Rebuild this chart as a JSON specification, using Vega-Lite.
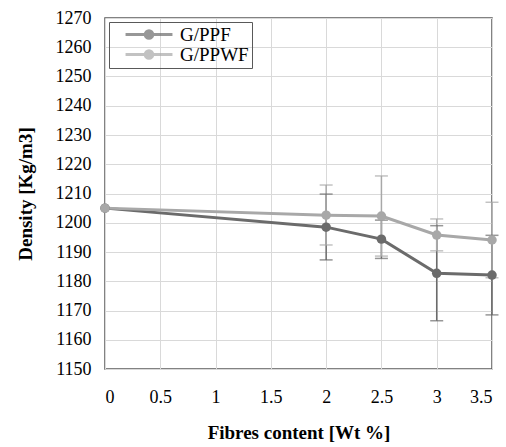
{
  "$schema": "https://vega.github.io/schema/vega-lite/v6.json",
  "autosize": "none",
  "width": 387,
  "height": 351,
  "padding": {"left": 105, "top": 18, "right": 14, "bottom": 78},
  "background": "white",
  "config": {
    "font": "Liberation Serif",
    "view": {"stroke": "#595959", "strokeWidth": 1.5}
  },
  "data": {
    "values": [
      {"x": 0, "series": "G/PPF", "density": 1205},
      {"x": 2, "series": "G/PPF", "density": 1198.5, "lo": 1187.3, "hi": 1209.8},
      {"x": 2.5, "series": "G/PPF", "density": 1194.4, "lo": 1187.8, "hi": 1200.9},
      {"x": 3, "series": "G/PPF", "density": 1182.7, "lo": 1166.5, "hi": 1199.0},
      {"x": 3.5, "series": "G/PPF", "density": 1182.1, "lo": 1168.5, "hi": 1195.7},
      {"x": 0, "series": "G/PPWF", "density": 1205},
      {"x": 2, "series": "G/PPWF", "density": 1202.6, "lo": 1192.4, "hi": 1212.9},
      {"x": 2.5, "series": "G/PPWF", "density": 1202.3, "lo": 1188.6, "hi": 1216.0},
      {"x": 3, "series": "G/PPWF", "density": 1195.8, "lo": 1190.4, "hi": 1201.3},
      {"x": 3.5, "series": "G/PPWF", "density": 1194.1, "lo": 1181.2, "hi": 1207.0}
    ]
  },
  "encoding": {
    "x": {
      "field": "x", "type": "quantitative",
      "scale": {"domain": [0, 3.5], "nice": false},
      "axis": {
        "values": [0, 0.5, 1, 1.5, 2, 2.5, 3, 3.5],
        "format": "~g",
        "labelOverlap": false,
        "title": "Fibres content [Wt %]",
        "titleFont": "Liberation Serif", "labelFont": "Liberation Serif",
        "titleFontSize": 19, "titleFontWeight": "bold", "titleColor": "#000",
        "labelFontSize": 18, "labelColor": "#000", "labelPadding": 19,
        "titlePadding": 17,
        "ticks": false, "domain": false,
        "gridColor": "#d9d9d9", "gridWidth": 1
      }
    },
    "color": {
      "field": "series", "type": "nominal",
      "scale": {"domain": ["G/PPF", "G/PPWF"], "range": ["#6b6b6b", "#a8a8a8"]},
      "legend": {
        "title": null, "orient": "none", "legendX": 4, "legendY": 4,
        "labelFont": "Liberation Serif",
        "labelFontSize": 19, "labelColor": "#000",
        "strokeColor": "#595959", "padding": 3,
        "symbolSize": 2200, "symbolStrokeWidth": 3, "symbolOffset": 12,
        "symbolType": "M-1,0L1,0M-0.16,0A0.16,0.16 0 1,0 0.16,0A0.16,0.16 0 1,0 -0.16,0",
        "clipHeight": 19,
        "rowPadding": 0, "labelOffset": 6
      }
    }
  },
  "layer": [
    {
      "mark": {"type": "rule", "strokeWidth": 1.5},
      "encoding": {
        "y": {"field": "lo", "type": "quantitative", "scale": {"domain": [1150, 1270], "nice": false},
          "axis": {
            "values": [1150,1160,1170,1180,1190,1200,1210,1220,1230,1240,1250,1260,1270],
            "format": "d", "labelOverlap": false,
            "title": "Density [Kg/m3]",
            "titleFont": "Liberation Serif", "labelFont": "Liberation Serif",
            "titleFontSize": 19, "titleFontWeight": "bold", "titleColor": "#000",
            "labelFontSize": 18, "labelColor": "#000", "labelPadding": 14,
            "titlePadding": 20,
            "ticks": false, "domain": false,
            "gridColor": "#d9d9d9", "gridWidth": 1
          }},
        "y2": {"field": "hi"}
      }
    },
    {
      "mark": {"type": "tick", "orient": "horizontal", "size": 13, "thickness": 1.5},
      "encoding": {
        "y": {"field": "lo", "type": "quantitative",
          "axis": {
            "values": [1150,1160,1170,1180,1190,1200,1210,1220,1230,1240,1250,1260,1270],
            "format": "d", "labelOverlap": false,
            "title": "Density [Kg/m3]",
            "titleFont": "Liberation Serif", "labelFont": "Liberation Serif",
            "titleFontSize": 19, "titleFontWeight": "bold", "titleColor": "#000",
            "labelFontSize": 18, "labelColor": "#000", "labelPadding": 14,
            "titlePadding": 20,
            "ticks": false, "domain": false,
            "gridColor": "#d9d9d9", "gridWidth": 1
          }}
      }
    },
    {
      "mark": {"type": "tick", "orient": "horizontal", "size": 13, "thickness": 1.5},
      "encoding": {
        "y": {"field": "hi", "type": "quantitative",
          "axis": {
            "values": [1150,1160,1170,1180,1190,1200,1210,1220,1230,1240,1250,1260,1270],
            "format": "d", "labelOverlap": false,
            "title": "Density [Kg/m3]",
            "titleFont": "Liberation Serif", "labelFont": "Liberation Serif",
            "titleFontSize": 19, "titleFontWeight": "bold", "titleColor": "#000",
            "labelFontSize": 18, "labelColor": "#000", "labelPadding": 14,
            "titlePadding": 20,
            "ticks": false, "domain": false,
            "gridColor": "#d9d9d9", "gridWidth": 1
          }}
      }
    },
    {
      "mark": {"type": "line", "strokeWidth": 3, "point": {"filled": true, "size": 90}},
      "encoding": {
        "y": {"field": "density", "type": "quantitative",
          "axis": {
            "values": [1150,1160,1170,1180,1190,1200,1210,1220,1230,1240,1250,1260,1270],
            "format": "d", "labelOverlap": false,
            "title": "Density [Kg/m3]",
            "titleFont": "Liberation Serif", "labelFont": "Liberation Serif",
            "titleFontSize": 19, "titleFontWeight": "bold", "titleColor": "#000",
            "labelFontSize": 18, "labelColor": "#000", "labelPadding": 14,
            "titlePadding": 20,
            "ticks": false, "domain": false,
            "gridColor": "#d9d9d9", "gridWidth": 1
          }}
      }
    }
  ]
}
